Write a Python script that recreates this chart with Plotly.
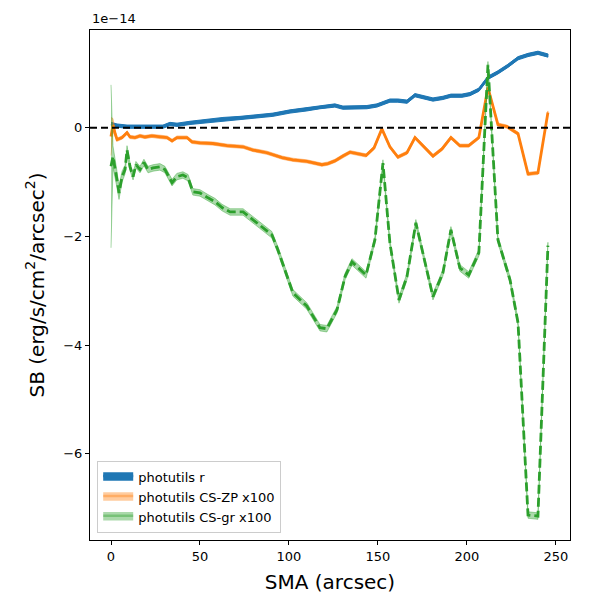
import plotly.graph_objects as go

# ---- data (SB in units of 1e-14 erg/s/cm^2/arcsec^2) ----
sma_r = [0, 3.4, 9, 16.3, 29.2, 33.1, 37.1, 44.4, 53.9, 62.9, 72.5, 82, 91, 100.6, 110.1,
         117.4, 125.8, 130.3, 143.8, 149.4, 156.7, 161.2, 166.3, 170.8, 180.9, 186.5, 191,
         197.2, 201.7, 206.7, 211.8, 217.4, 223, 228.7, 234.3, 239.9, 245.5]
sb_r = [0.07, 0.04, 0.02, 0.02, 0.02, 0.07, 0.055, 0.09, 0.13, 0.16, 0.18, 0.21, 0.24, 0.30, 0.34,
        0.38, 0.41, 0.37, 0.38, 0.41, 0.50, 0.50, 0.48, 0.60, 0.52, 0.55, 0.59,
        0.59, 0.62, 0.70, 0.92, 1.02, 1.14, 1.28, 1.34, 1.38, 1.33]
err_r = [0.03] * len(sb_r)

sma_zp = [0, 1.1, 2.2, 3.4, 6.2, 9, 10.7, 13.5, 16.3, 19.1, 23, 27.5, 31.5, 34.3, 37.1, 42.7,
          45.5, 50, 57.3, 65.2, 74.2, 79.8, 87.6, 96.1, 102.2, 110.1, 118.5, 121.9, 125.8,
          130.3, 134.3, 143.3, 147.8, 152.2, 156.7, 161.2, 166.3, 170.8, 175.8, 180.9, 186,
          191, 196, 201, 206.7, 211.8, 217.4, 222.5, 228.7, 234.3, 239.9, 245.5]
sb_zp = [-0.16, 0.05, -0.09, -0.22, -0.18, -0.09, -0.17, -0.18, -0.15, -0.17, -0.15, -0.17, -0.18,
         -0.24, -0.18, -0.18, -0.26, -0.28, -0.29, -0.33, -0.35, -0.41, -0.46, -0.55, -0.59,
         -0.62, -0.68, -0.66, -0.61, -0.52, -0.45, -0.51, -0.37, -0.02, -0.35, -0.54, -0.46,
         -0.18, -0.35, -0.52, -0.39, -0.18, -0.33, -0.33, -0.18, 0.74, 0.06, 0.02, -0.11,
         -0.85, -0.83, 0.28]
err_zp = [0.35, 0.12, 0.06] + [0.03] * (len(sb_zp) - 3)

sma_gr = [0, 1.1, 3.4, 4.5, 6.2, 7.9, 9, 10.7, 12.4, 14, 16.3, 18.5, 20.8, 23.6, 27.5, 30.3,
          34.3, 37, 40.4, 43.3, 46, 50, 54.5, 58.4, 62.4, 66.9, 74.2, 79.8, 85.4, 90.4, 93.8,
          97.8, 102.2, 110, 117.4, 121.3, 127, 131.5, 135.4, 143.3, 148.3, 152.8, 156.7,
          161.8, 166.3, 171.3, 176.4, 180.9, 186.5, 191, 196, 201, 206.7, 211.8, 217.4,
          224.2, 228.7, 234.3, 239.9, 245.5]
sb_gr = [-0.71, -0.53, -0.96, -1.20, -0.90, -0.77, -0.41, -0.72, -0.90, -0.68, -0.77, -0.64,
         -0.77, -0.74, -0.72, -0.77, -1.01, -0.90, -0.87, -0.92, -1.18, -1.20, -1.29, -1.36,
         -1.47, -1.55, -1.55, -1.69, -1.84, -1.97, -2.25, -2.62, -3.04, -3.28, -3.68, -3.70,
         -3.35, -2.74, -2.47, -2.71, -2.06, -0.65, -2.12, -3.17, -2.74, -1.75, -2.49, -3.11,
         -2.67, -1.88, -2.58, -2.71, -2.30, 1.16, -2.06, -2.80, -3.59, -7.13, -7.15, -2.17]
err_gr = [1.5, 0.2, 0.15, 0.12, 0.1, 0.08, 0.08, 0.07] + [0.06] * (len(sb_gr) - 8)

x_ticks = [0, 50, 100, 150, 200, 250]
y_ticks = [-6, -4, -2, 0]
y_tick_labels = ["\u22126", "\u22124", "\u22122", "0"]

# ---- figure ----
fig = go.Figure()

def band(x, y, e, fillcolor, name):
    hi = [a + b for a, b in zip(y, e)]
    lo = [a - b for a, b in zip(y, e)]
    return go.Scatter(x=list(x) + list(x)[::-1], y=hi + lo[::-1], fill="toself",
                      fillcolor=fillcolor, line=dict(width=1, color=fillcolor),
                      mode="lines", name=name, hoverinfo="skip")

fig.add_trace(band(sma_r, sb_r, err_r, "#1f77b4", "photutils r"))
fig.add_trace(go.Scatter(x=sma_r, y=sb_r, mode="lines", line=dict(color="#1f77b4", width=2.8),
                         showlegend=False))
fig.add_trace(band(sma_zp, sb_zp, err_zp, "rgba(255,127,14,0.4)", "photutils CS-ZP x100"))
fig.add_trace(go.Scatter(x=sma_zp, y=sb_zp, mode="lines", line=dict(color="#ff7f0e", width=2.8),
                         showlegend=False))
fig.add_trace(band(sma_gr, sb_gr, err_gr, "rgba(44,160,44,0.4)", "photutils CS-gr x100"))
fig.add_trace(go.Scatter(x=sma_gr, y=sb_gr, mode="lines",
                         line=dict(color="#2ca02c", width=2.8, dash="9px,4px"),
                         showlegend=False))

fig.add_shape(type="line", xref="paper", yref="y", x0=0, x1=1, y0=0, y1=0,
              line=dict(color="black", width=2, dash="7px,4px"))

fig.add_annotation(text="1e\u221214", xref="paper", yref="paper", x=0, y=1.0,
                   xanchor="left", yanchor="bottom", showarrow=False, yshift=2,
                   font=dict(size=13, color="black", family="DejaVu Sans"))

axis_common = dict(showline=True, linecolor="black", linewidth=1.2, mirror=True,
                   ticks="outside", ticklen=4, tickcolor="black", showgrid=False,
                   zeroline=False, tickfont=dict(size=13, color="black"), automargin=False)

fig.update_layout(
    width=600, height=600,
    margin=dict(l=82, r=38, t=22, b=68, autoexpand=False),
    paper_bgcolor="white", plot_bgcolor="white",
    font=dict(family="DejaVu Sans", color="black"),
    xaxis=dict(range=[-11.8, 257.9], tickvals=x_ticks,
               title=dict(text="SMA (arcsec)", font=dict(size=20), standoff=12),
               **axis_common),
    yaxis=dict(range=[-7.59, 1.80], tickvals=y_ticks, ticktext=y_tick_labels,
               title=dict(text="SB (erg/s/cm<sup>2</sup>/arcsec<sup>2</sup>)", font=dict(size=20),
                          standoff=13),
               **axis_common),
    legend=dict(x=0.015, y=0.014, xanchor="left", yanchor="bottom",
                bgcolor="rgba(255,255,255,0.8)", bordercolor="#cccccc", borderwidth=1,
                font=dict(size=13), tracegroupgap=0, itemsizing="constant"),
    showlegend=True,
)

fig.write_html("out.html")
